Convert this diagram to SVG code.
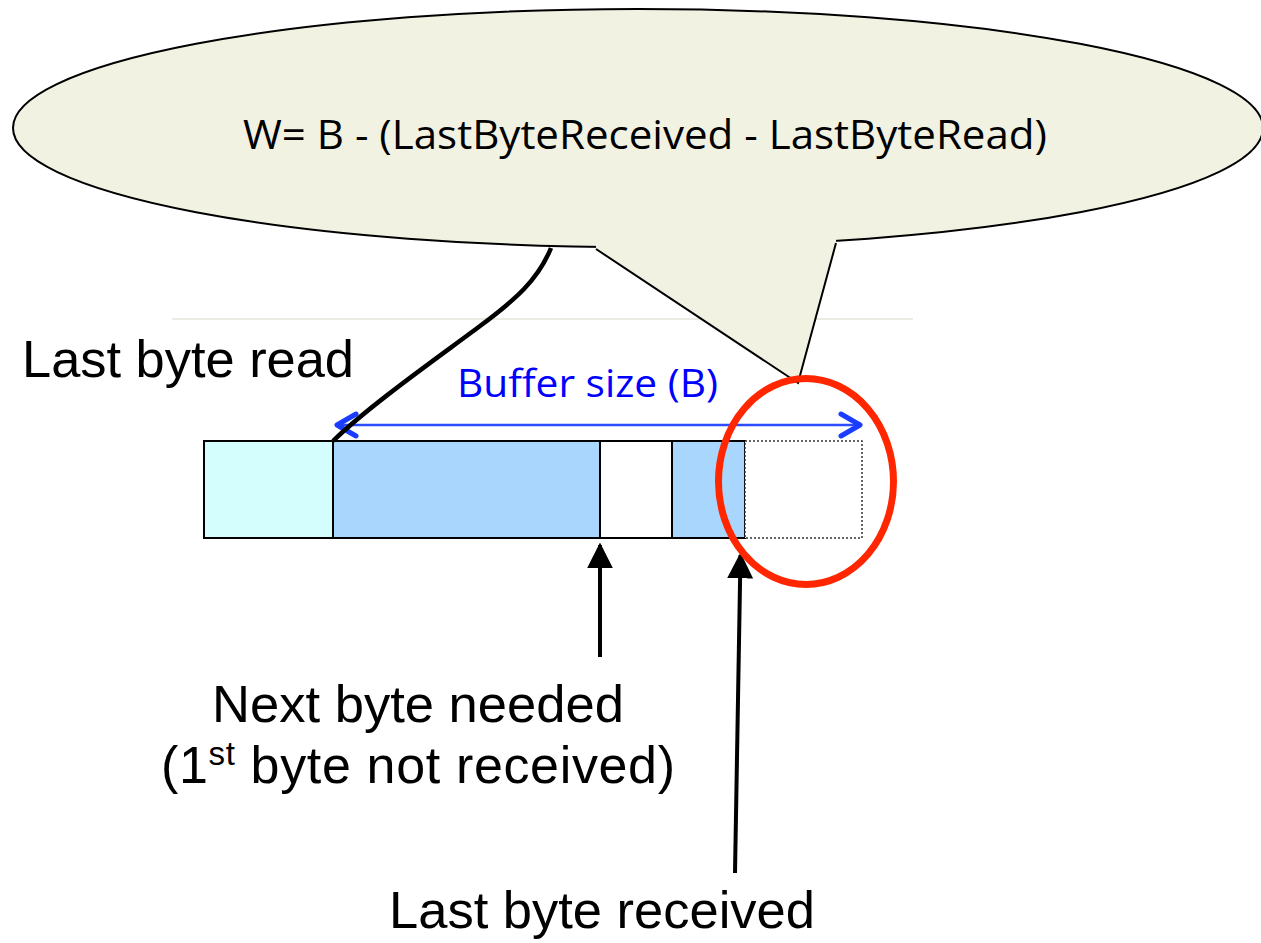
<svg xmlns="http://www.w3.org/2000/svg" width="1261" height="943" viewBox="0 0 1261 943">
<style>
.lbl{font-family:"Liberation Sans",Arial,sans-serif;font-size:52px;fill:#000}
.cal{font-family:"Open Sans","Liberation Sans",sans-serif}
.seg{stroke:#000;stroke-width:2}
.ptr{stroke:#000;stroke-width:4.5;fill:none}
</style>
<defs>
<marker id="tri" viewBox="0 0 10 10" refX="9" refY="5" markerWidth="26" markerHeight="26" markerUnits="userSpaceOnUse" orient="auto">
<path d="M0,0 L10,5 L0,10 z" fill="#000"/>
</marker>
</defs>
<rect width="1261" height="943" fill="#fff"/>
<line x1="172" y1="319" x2="913" y2="319" stroke="#ECECE4" stroke-width="2"/>

<g id="callout">
<ellipse cx="638" cy="128" rx="625" ry="119" fill="#F2F2E3" stroke="#000" stroke-width="2"/>
<polygon points="596,249 798,383 836,243 836,232 596,236" fill="#F2F2E3"/>
<polyline points="596,249 798,383 836,243" fill="none" stroke="#000" stroke-width="2"/>
<text class="cal" x="243" y="149" font-size="40" textLength="804" lengthAdjust="spacingAndGlyphs" fill="#000">W= B - (LastByteReceived - LastByteRead)</text>
</g>

<g id="buffer">
<rect class="seg" x="204" y="441" width="129" height="97" fill="#D4FDFD"/>
<rect class="seg" x="333" y="441" width="267" height="97" fill="#A9D6FD"/>
<rect class="seg" x="600" y="441" width="72" height="97" fill="#fff"/>
<rect class="seg" x="672" y="441" width="73" height="97" fill="#A9D6FD"/>
<rect x="745" y="441" width="117" height="97" fill="#fff" stroke="#333" stroke-width="1.5" stroke-dasharray="2,2"/>
</g>

<g id="buffer-size">
<line x1="336" y1="425" x2="860" y2="425" stroke="#2B4DFF" stroke-width="2.5"/>
<polyline points="356,414 337,425 356,436" fill="none" stroke="#1A3CFF" stroke-width="5" stroke-linecap="round" stroke-linejoin="round"/>
<polyline points="841,414 860,425 841,436" fill="none" stroke="#1A3CFF" stroke-width="5" stroke-linecap="round" stroke-linejoin="round"/>
<text class="cal" x="457" y="397" font-size="38" textLength="261" lengthAdjust="spacingAndGlyphs" fill="#0000FF">Buffer size (B)</text>
</g>

<g id="labels">
<text class="lbl" x="22" y="377" textLength="332" lengthAdjust="spacingAndGlyphs">Last byte read</text>
<text class="lbl" x="212" y="722" textLength="412" lengthAdjust="spacingAndGlyphs">Next byte needed</text>
<text class="lbl" x="161" y="783" textLength="514" lengthAdjust="spacing">(1<tspan font-size="33" dy="-18">st</tspan><tspan dy="18"> byte not received)</tspan></text>
<text class="lbl" x="389" y="928" textLength="426" lengthAdjust="spacingAndGlyphs">Last byte received</text>
</g>

<g id="connectors">
<path class="ptr" d="M551,248 C538,280 515,300 480,326 C440,356 370,405 333,441"/>
<line x1="600" y1="657" x2="600" y2="545" stroke="#000" stroke-width="4" marker-end="url(#tri)"/>
<line x1="735" y1="873" x2="740.5" y2="555" stroke="#000" stroke-width="4" marker-end="url(#tri)"/>
</g>

<g id="highlight">
<ellipse cx="806" cy="481.5" rx="87.5" ry="103" fill="none" stroke="#FF2600" stroke-width="7"/>
</g>
</svg>
